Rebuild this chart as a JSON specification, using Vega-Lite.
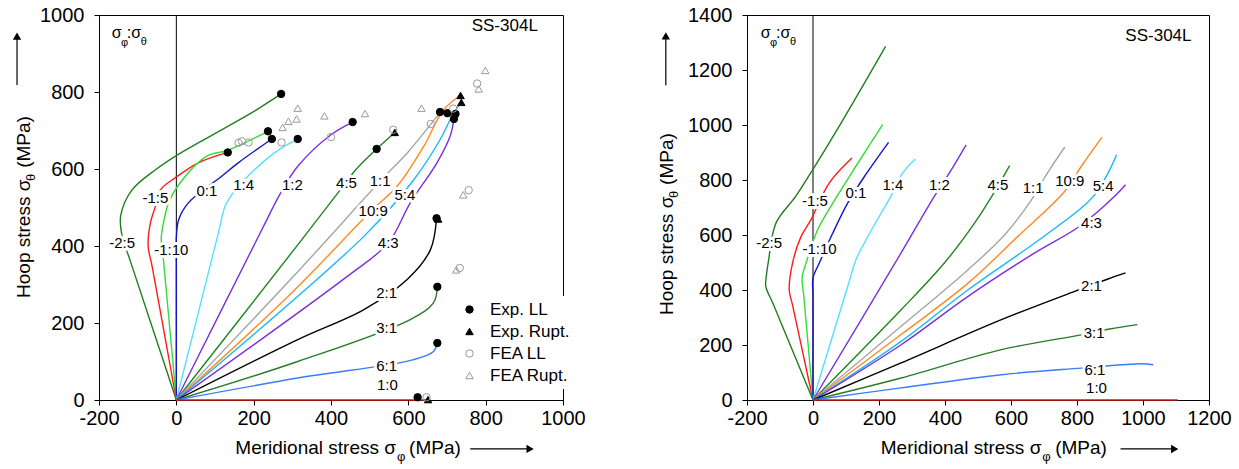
{
"$schema":"https://vega.github.io/schema/vega-lite/v6.json",
"padding":{"left":12,"top":4,"right":0,"bottom":0},
"config":{"font":"Liberation Sans","view":{"stroke":"#000","strokeWidth":1},
 "axis":{"grid":false,"domainColor":"#000","tickColor":"#000","labelColor":"#000","labelFontSize":20,"tickSize":5,"title":null,"labelOverlap":false,"labelFlush":false},
 "legend":{"labelFontSize":17,"labelColor":"#000","symbolSize":55,"symbolStrokeWidth":1,"rowPadding":4,"padding":5,"fillColor":"white","labelOffset":12}},
"datasets":{
"lc":[
{"r":"-2:5","i":0,"x":0,"y":0},{"r":"-2:5","i":1,"x":-120,"y":364},{"r":"-2:5","i":2,"x":-140,"y":425},{"r":"-2:5","i":3,"x":-144,"y":478},{"r":"-2:5","i":4,"x":-115,"y":545},{"r":"-2:5","i":5,"x":-54,"y":598},{"r":"-2:5","i":6,"x":-3,"y":633},{"r":"-2:5","i":7,"x":116,"y":701},{"r":"-2:5","i":8,"x":203,"y":751},{"r":"-2:5","i":9,"x":271,"y":795},
{"r":"-1:5","i":0,"x":0,"y":0},{"r":"-1:5","i":1,"x":-62,"y":344},{"r":"-1:5","i":2,"x":-73,"y":401},{"r":"-1:5","i":3,"x":-67,"y":460},{"r":"-1:5","i":4,"x":-54,"y":503},{"r":"-1:5","i":5,"x":-41,"y":546},{"r":"-1:5","i":6,"x":-3,"y":577},{"r":"-1:5","i":7,"x":57,"y":616},{"r":"-1:5","i":8,"x":133,"y":643},
{"r":"-1:10","i":0,"x":0,"y":0},{"r":"-1:10","i":1,"x":-33,"y":360},{"r":"-1:10","i":2,"x":-39,"y":421},{"r":"-1:10","i":3,"x":-35,"y":451},{"r":"-1:10","i":4,"x":-20,"y":512},{"r":"-1:10","i":5,"x":6,"y":559},{"r":"-1:10","i":6,"x":78,"y":633},{"r":"-1:10","i":7,"x":134,"y":649},{"r":"-1:10","i":8,"x":237,"y":698},
{"r":"0:1","i":0,"x":0,"y":0},{"r":"0:1","i":1,"x":0,"y":360},{"r":"0:1","i":2,"x":0,"y":421},{"r":"0:1","i":3,"x":6,"y":468},{"r":"0:1","i":4,"x":31,"y":512},{"r":"0:1","i":5,"x":117,"y":581},{"r":"0:1","i":6,"x":160,"y":616},{"r":"0:1","i":7,"x":247,"y":678},
{"r":"1:4","i":0,"x":0,"y":0},{"r":"1:4","i":1,"x":108,"y":431},{"r":"1:4","i":2,"x":126,"y":503},{"r":"1:4","i":3,"x":143,"y":533},{"r":"1:4","i":4,"x":194,"y":590},{"r":"1:4","i":5,"x":254,"y":642},{"r":"1:4","i":6,"x":314,"y":678},
{"r":"1:2","i":0,"x":0,"y":0},{"r":"1:2","i":1,"x":230,"y":460},{"r":"1:2","i":2,"x":267,"y":533},{"r":"1:2","i":3,"x":314,"y":607},{"r":"1:2","i":4,"x":400,"y":689},{"r":"1:2","i":5,"x":456,"y":722},
{"r":"4:5","i":0,"x":0,"y":0},{"r":"4:5","i":1,"x":314,"y":403},{"r":"4:5","i":2,"x":438,"y":564},{"r":"4:5","i":3,"x":464,"y":598},{"r":"4:5","i":4,"x":518,"y":652},{"r":"4:5","i":5,"x":565,"y":695},
{"r":"1:1","i":0,"x":0,"y":0},{"r":"1:1","i":1,"x":300,"y":318},{"r":"1:1","i":2,"x":527,"y":568},{"r":"1:1","i":3,"x":600,"y":645},{"r":"1:1","i":4,"x":682,"y":747},
{"r":"10:9","i":0,"x":0,"y":0},{"r":"10:9","i":1,"x":300,"y":280},{"r":"10:9","i":2,"x":507,"y":494},{"r":"10:9","i":3,"x":571,"y":555},{"r":"10:9","i":4,"x":640,"y":659},{"r":"10:9","i":5,"x":691,"y":754},{"r":"10:9","i":6,"x":735,"y":791},
{"r":"5:4","i":0,"x":0,"y":0},{"r":"5:4","i":1,"x":485,"y":425},{"r":"5:4","i":2,"x":614,"y":572},{"r":"5:4","i":3,"x":682,"y":676},{"r":"5:4","i":4,"x":717,"y":745},{"r":"5:4","i":5,"x":737,"y":773},
{"r":"4:3","i":0,"x":0,"y":0},{"r":"4:3","i":1,"x":442,"y":321},{"r":"4:3","i":2,"x":548,"y":408},{"r":"4:3","i":3,"x":605,"y":512},{"r":"4:3","i":4,"x":674,"y":616},{"r":"4:3","i":5,"x":708,"y":685},{"r":"4:3","i":6,"x":718,"y":730},
{"r":"2:1","i":0,"x":0,"y":0},{"r":"2:1","i":1,"x":314,"y":157},{"r":"2:1","i":2,"x":485,"y":235},{"r":"2:1","i":3,"x":597,"y":313},{"r":"2:1","i":4,"x":657,"y":390},{"r":"2:1","i":5,"x":673,"y":472},
{"r":"3:1","i":0,"x":0,"y":0},{"r":"3:1","i":1,"x":314,"y":100},{"r":"3:1","i":2,"x":605,"y":209},{"r":"3:1","i":3,"x":665,"y":252},{"r":"3:1","i":4,"x":675,"y":294},
{"r":"6:1","i":0,"x":0,"y":0},{"r":"6:1","i":1,"x":314,"y":57},{"r":"6:1","i":2,"x":614,"y":105},{"r":"6:1","i":3,"x":665,"y":126},{"r":"6:1","i":4,"x":675,"y":148},
{"r":"1:0","i":0,"x":0,"y":0},{"r":"1:0","i":1,"x":651,"y":0}
],
"rc":[
{"r":"-2:5","i":0,"x":0,"y":0},{"r":"-2:5","i":1,"x":-120,"y":347},{"r":"-2:5","i":2,"x":-143,"y":413},{"r":"-2:5","i":3,"x":-141,"y":455},{"r":"-2:5","i":4,"x":-135,"y":505},{"r":"-2:5","i":5,"x":-112,"y":644},{"r":"-2:5","i":6,"x":-52,"y":741},{"r":"-2:5","i":7,"x":-1,"y":837},{"r":"-2:5","i":8,"x":85,"y":1007},{"r":"-2:5","i":9,"x":220,"y":1286},
{"r":"-1:5","i":0,"x":0,"y":0},{"r":"-1:5","i":1,"x":-62,"y":345},{"r":"-1:5","i":2,"x":-72,"y":401},{"r":"-1:5","i":3,"x":-62,"y":498},{"r":"-1:5","i":4,"x":-36,"y":595},{"r":"-1:5","i":5,"x":-6,"y":656},{"r":"-1:5","i":6,"x":49,"y":789},{"r":"-1:5","i":7,"x":118,"y":880},
{"r":"-1:10","i":0,"x":0,"y":0},{"r":"-1:10","i":1,"x":-28,"y":380},{"r":"-1:10","i":2,"x":-33,"y":444},{"r":"-1:10","i":3,"x":-21,"y":498},{"r":"-1:10","i":4,"x":14,"y":619},{"r":"-1:10","i":5,"x":60,"y":716},{"r":"-1:10","i":6,"x":130,"y":850},{"r":"-1:10","i":7,"x":211,"y":1001},
{"r":"0:1","i":0,"x":0,"y":0},{"r":"0:1","i":1,"x":0,"y":380},{"r":"0:1","i":2,"x":0,"y":444},{"r":"0:1","i":3,"x":19,"y":498},{"r":"0:1","i":4,"x":60,"y":607},{"r":"0:1","i":5,"x":105,"y":716},{"r":"0:1","i":6,"x":156,"y":813},{"r":"0:1","i":7,"x":229,"y":937},
{"r":"1:4","i":0,"x":0,"y":0},{"r":"1:4","i":1,"x":110,"y":432},{"r":"1:4","i":2,"x":130,"y":510},{"r":"1:4","i":3,"x":161,"y":583},{"r":"1:4","i":4,"x":201,"y":668},{"r":"1:4","i":5,"x":238,"y":745},{"r":"1:4","i":6,"x":270,"y":822},{"r":"1:4","i":7,"x":310,"y":876},
{"r":"1:2","i":0,"x":0,"y":0},{"r":"1:2","i":1,"x":267,"y":535},{"r":"1:2","i":2,"x":368,"y":741},{"r":"1:2","i":3,"x":419,"y":837},{"r":"1:2","i":4,"x":464,"y":928},
{"r":"4:5","i":0,"x":0,"y":0},{"r":"4:5","i":1,"x":267,"y":328},{"r":"4:5","i":2,"x":398,"y":498},{"r":"4:5","i":3,"x":490,"y":644},{"r":"4:5","i":4,"x":545,"y":747},{"r":"4:5","i":5,"x":596,"y":852},
{"r":"1:1","i":0,"x":0,"y":0},{"r":"1:1","i":1,"x":267,"y":268},{"r":"1:1","i":2,"x":470,"y":474},{"r":"1:1","i":3,"x":581,"y":601},{"r":"1:1","i":4,"x":662,"y":728},{"r":"1:1","i":5,"x":707,"y":819},{"r":"1:1","i":6,"x":763,"y":920},
{"r":"10:9","i":0,"x":0,"y":0},{"r":"10:9","i":1,"x":267,"y":238},{"r":"10:9","i":2,"x":470,"y":425},{"r":"10:9","i":3,"x":621,"y":595},{"r":"10:9","i":4,"x":763,"y":759},{"r":"10:9","i":5,"x":813,"y":850},{"r":"10:9","i":6,"x":876,"y":956},
{"r":"5:4","i":0,"x":0,"y":0},{"r":"5:4","i":1,"x":267,"y":213},{"r":"5:4","i":2,"x":470,"y":401},{"r":"5:4","i":3,"x":672,"y":571},{"r":"5:4","i":4,"x":813,"y":698},{"r":"5:4","i":5,"x":854,"y":747},{"r":"5:4","i":6,"x":894,"y":825},{"r":"5:4","i":7,"x":920,"y":892},
{"r":"4:3","i":0,"x":0,"y":0},{"r":"4:3","i":1,"x":267,"y":201},{"r":"4:3","i":2,"x":470,"y":377},{"r":"4:3","i":3,"x":672,"y":535},{"r":"4:3","i":4,"x":808,"y":632},{"r":"4:3","i":5,"x":914,"y":741},{"r":"4:3","i":6,"x":947,"y":783},
{"r":"2:1","i":0,"x":0,"y":0},{"r":"2:1","i":1,"x":267,"y":135},{"r":"2:1","i":2,"x":571,"y":292},{"r":"2:1","i":3,"x":793,"y":395},{"r":"2:1","i":4,"x":894,"y":440},{"r":"2:1","i":5,"x":947,"y":462},
{"r":"3:1","i":0,"x":0,"y":0},{"r":"3:1","i":1,"x":267,"y":80},{"r":"3:1","i":2,"x":571,"y":183},{"r":"3:1","i":3,"x":813,"y":237},{"r":"3:1","i":4,"x":899,"y":258},{"r":"3:1","i":5,"x":983,"y":274},
{"r":"6:1","i":0,"x":0,"y":0},{"r":"6:1","i":1,"x":267,"y":44},{"r":"6:1","i":2,"x":571,"y":92},{"r":"6:1","i":3,"x":813,"y":116},{"r":"6:1","i":4,"x":995,"y":132},{"r":"6:1","i":5,"x":1031,"y":128},
{"r":"1:0","i":0,"x":0,"y":0},{"r":"1:0","i":1,"x":1105,"y":0}
],
"ll":[{"t":"-2:5","x":-140,"y":408},{"t":"-1:5","x":-54,"y":525},{"t":"-1:10","x":-13,"y":390},{"t":"0:1","x":79,"y":542},{"t":"1:4","x":174,"y":559},{"t":"1:2","x":300,"y":559},{"t":"4:5","x":440,"y":564},{"t":"1:1","x":527,"y":568},{"t":"10:9","x":509,"y":490},{"t":"5:4","x":591,"y":533},{"t":"4:3","x":548,"y":408},{"t":"2:1","x":544,"y":278},{"t":"3:1","x":544,"y":187},{"t":"6:1","x":544,"y":88},{"t":"1:0","x":546,"y":40}],
"rl":[{"t":"-2:5","x":-133,"y":571},{"t":"-1:5","x":6,"y":722},{"t":"-1:10","x":20,"y":549},{"t":"0:1","x":130,"y":753},{"t":"1:4","x":242,"y":783},{"t":"1:2","x":383,"y":783},{"t":"4:5","x":560,"y":783},{"t":"1:1","x":667,"y":771},{"t":"10:9","x":778,"y":795},{"t":"5:4","x":879,"y":777},{"t":"4:3","x":844,"y":644},{"t":"2:1","x":844,"y":413},{"t":"3:1","x":852,"y":244},{"t":"6:1","x":854,"y":110},{"t":"1:0","x":859,"y":44}],
"lp":[
{"type":"Exp. LL","x":271,"y":795},{"type":"Exp. LL","x":133,"y":643},{"type":"Exp. LL","x":237,"y":698},{"type":"Exp. LL","x":247,"y":678},{"type":"Exp. LL","x":314,"y":678},{"type":"Exp. LL","x":456,"y":722},{"type":"Exp. LL","x":518,"y":652},{"type":"Exp. LL","x":682,"y":748},{"type":"Exp. LL","x":701,"y":745},{"type":"Exp. LL","x":722,"y":743},{"type":"Exp. LL","x":718,"y":730},{"type":"Exp. LL","x":673,"y":472},{"type":"Exp. LL","x":675,"y":294},{"type":"Exp. LL","x":675,"y":148},{"type":"Exp. LL","x":624,"y":7},
{"type":"Exp. Rupt.","x":565,"y":695},{"type":"Exp. Rupt.","x":735,"y":791},{"type":"Exp. Rupt.","x":737,"y":773},{"type":"Exp. Rupt.","x":677,"y":470},{"type":"Exp. Rupt.","x":651,"y":1},
{"type":"FEA LL","x":161,"y":668},{"type":"FEA LL","x":170,"y":672},{"type":"FEA LL","x":187,"y":669},{"type":"FEA LL","x":272,"y":669},{"type":"FEA LL","x":400,"y":683},{"type":"FEA LL","x":561,"y":702},{"type":"FEA LL","x":658,"y":717},{"type":"FEA LL","x":716,"y":757},{"type":"FEA LL","x":778,"y":822},{"type":"FEA LL","x":756,"y":545},{"type":"FEA LL","x":733,"y":343},{"type":"FEA LL","x":647,"y":7},
{"type":"FEA Rupt.","x":275,"y":708},{"type":"FEA Rupt.","x":290,"y":724},{"type":"FEA Rupt.","x":311,"y":730},{"type":"FEA Rupt.","x":314,"y":758},{"type":"FEA Rupt.","x":383,"y":738},{"type":"FEA Rupt.","x":488,"y":744},{"type":"FEA Rupt.","x":634,"y":758},{"type":"FEA Rupt.","x":782,"y":808},{"type":"FEA Rupt.","x":799,"y":856},{"type":"FEA Rupt.","x":742,"y":533},{"type":"FEA Rupt.","x":724,"y":338}
],
"lt":[{"k":"xr","t":"Meridional stress σ","x":568,"y":-140},{"k":"xl","t":"(MPa)","x":602,"y":-140},{"k":"xs","t":"φ","x":571,"y":-158},{"k":"yr","t":"Hoop stress σ","x":-378,"y":265},{"k":"yr","t":"(MPa)","x":-378,"y":603},{"k":"ys","t":"θ","x":-365,"y":569},{"k":"ab","t":"σ","x":-167,"y":940},{"k":"ab","t":":σ","x":-128,"y":940},{"k":"as","t":"φ","x":-143,"y":919},{"k":"as","t":"θ","x":-92,"y":922},{"k":"id","t":"SS-304L","x":935,"y":958}],
"rt":[{"k":"xr","t":"Meridional stress σ","x":692,"y":-196},{"k":"xl","t":"(MPa)","x":734,"y":-196},{"k":"xs","t":"φ","x":695,"y":-222},{"k":"yr","t":"Hoop stress σ","x":-425,"y":309},{"k":"yr","t":"(MPa)","x":-425,"y":782},{"k":"ys","t":"θ","x":-410,"y":735},{"k":"ab","t":"σ","x":-158,"y":1316},{"k":"ab","t":":σ","x":-112,"y":1316},{"k":"as","t":"φ","x":-130,"y":1287},{"k":"as","t":"θ","x":-70,"y":1291},{"k":"id","t":"SS-304L","x":1147,"y":1305}],
"la":[{"x":760,"y":-127,"x2":910,"y2":-127},{"x":-412,"y":818,"x2":-412,"y2":940}],
"lh":[{"s":"r","x":915,"y":-127},{"s":"u","x":-412,"y":945}],
"ra":[{"x":932,"y":-178,"x2":1090,"y2":-178},{"x":-446,"y":1145,"x2":-446,"y2":1316}],
"rh":[{"s":"r","x":1096,"y":-178},{"s":"u","x":-446,"y":1324}],
"lz":[{"x":0,"y":0,"y2":1000}],
"rz":[{"x":0,"y":0,"y2":1400}]
},
"spacing":71,
"resolve":{"scale":{"shape":"independent","fill":"independent","stroke":"independent"}},
"hconcat":[
{"width":464,"height":385,
 "layer":[
  {"data":{"name":"lz"},"mark":{"type":"rule","color":"#000","strokeWidth":1},
   "encoding":{"x":{"field":"x","type":"quantitative","scale":{"domain":[-200,1000],"nice":false,"zero":false},"axis":{"values":[-200,-100,0,100,200,300,400,500,600,700,800,900,1000],"labelExpr":"datum.value % 200 == 0 ? '' + datum.value : ''","labelPadding":3}},
    "y":{"field":"y","type":"quantitative","scale":{"domain":[0,1000],"nice":false},"axis":{"values":[0,100,200,300,400,500,600,700,800,900,1000],"labelExpr":"datum.value % 200 == 0 ? '' + datum.value : ''","labelPadding":10}},
    "y2":{"field":"y2"}}},
  {"data":{"name":"lc"},"mark":{"type":"line","strokeWidth":1.4,"interpolate":"catmull-rom"},
   "encoding":{"x":{"field":"x","type":"quantitative"},"y":{"field":"y","type":"quantitative"},
    "color":{"field":"r","type":"nominal","legend":null,"scale":{"domain":["-2:5","-1:5","-1:10","0:1","1:4","1:2","4:5","1:1","10:9","5:4","4:3","2:1","3:1","6:1","1:0"],"range":["#1f7f1f","#ff1a1a","#33dd33","#1414c8","#55e0ff","#7a30dd","#1f861f","#a6a6a6","#ff8a1e","#19b9f5","#7a2ee0","#000000","#2a7a2a","#3a7bff","#d01818"]}},
    "order":{"field":"i","type":"quantitative"}}},
  {"data":{"name":"ll"},"mark":{"type":"text","fontSize":15,"fill":"white","stroke":"white","strokeWidth":6,"strokeJoin":"round"},
   "encoding":{"x":{"field":"x","type":"quantitative"},"y":{"field":"y","type":"quantitative"},"text":{"field":"t"}}},
  {"data":{"name":"ll"},"mark":{"type":"text","fontSize":15,"fill":"#000"},
   "encoding":{"x":{"field":"x","type":"quantitative"},"y":{"field":"y","type":"quantitative"},"text":{"field":"t"}}},
  {"data":{"name":"lp"},"mark":{"type":"point","filled":true,"size":55,"strokeWidth":1,"opacity":1},
   "encoding":{"x":{"field":"x","type":"quantitative"},"y":{"field":"y","type":"quantitative"},
    "shape":{"field":"type","type":"nominal","scale":{"domain":["Exp. LL","Exp. Rupt.","FEA LL","FEA Rupt."],"range":["circle","triangle-up","circle","triangle-up"]},"legend":{"orient":"none","legendX":357,"legendY":281,"title":null}},
    "fill":{"field":"type","type":"nominal","scale":{"domain":["Exp. LL","Exp. Rupt.","FEA LL","FEA Rupt."],"range":["#000000","#000000","transparent","transparent"]},"legend":{"orient":"none","legendX":357,"legendY":281,"title":null}},
    "stroke":{"field":"type","type":"nominal","scale":{"domain":["Exp. LL","Exp. Rupt.","FEA LL","FEA Rupt."],"range":["#000000","#000000","#9a9a9a","#9a9a9a"]},"legend":{"orient":"none","legendX":357,"legendY":281,"title":null}}}},
  {"data":{"name":"lt"},"transform":[{"filter":"datum.k=='xr'"}],"mark":{"type":"text","fontSize":19,"align":"right","baseline":"alphabetic"},
   "encoding":{"x":{"field":"x","type":"quantitative"},"y":{"field":"y","type":"quantitative"},"text":{"field":"t"}}},
  {"data":{"name":"lt"},"transform":[{"filter":"datum.k=='xl'"}],"mark":{"type":"text","fontSize":19,"align":"left","baseline":"alphabetic"},
   "encoding":{"x":{"field":"x","type":"quantitative"},"y":{"field":"y","type":"quantitative"},"text":{"field":"t"}}},
  {"data":{"name":"lt"},"transform":[{"filter":"datum.k=='xs'"}],"mark":{"type":"text","fontSize":13,"align":"left","baseline":"alphabetic"},
   "encoding":{"x":{"field":"x","type":"quantitative"},"y":{"field":"y","type":"quantitative"},"text":{"field":"t"}}},
  {"data":{"name":"lt"},"transform":[{"filter":"datum.k=='yr'"}],"mark":{"type":"text","fontSize":19,"align":"left","baseline":"alphabetic","angle":270},
   "encoding":{"x":{"field":"x","type":"quantitative"},"y":{"field":"y","type":"quantitative"},"text":{"field":"t"}}},
  {"data":{"name":"lt"},"transform":[{"filter":"datum.k=='ys'"}],"mark":{"type":"text","fontSize":13,"align":"left","baseline":"alphabetic","angle":270},
   "encoding":{"x":{"field":"x","type":"quantitative"},"y":{"field":"y","type":"quantitative"},"text":{"field":"t"}}},
  {"data":{"name":"lt"},"transform":[{"filter":"datum.k=='ab'"}],"mark":{"type":"text","fontSize":16,"align":"left","baseline":"alphabetic"},
   "encoding":{"x":{"field":"x","type":"quantitative"},"y":{"field":"y","type":"quantitative"},"text":{"field":"t"}}},
  {"data":{"name":"lt"},"transform":[{"filter":"datum.k=='as'"}],"mark":{"type":"text","fontSize":11,"align":"left","baseline":"alphabetic"},
   "encoding":{"x":{"field":"x","type":"quantitative"},"y":{"field":"y","type":"quantitative"},"text":{"field":"t"}}},
  {"data":{"name":"lt"},"transform":[{"filter":"datum.k=='id'"}],"mark":{"type":"text","fontSize":17,"align":"right","baseline":"alphabetic"},
   "encoding":{"x":{"field":"x","type":"quantitative"},"y":{"field":"y","type":"quantitative"},"text":{"field":"t"}}},
  {"data":{"name":"la"},"mark":{"type":"rule","color":"#000","strokeWidth":1.2},
   "encoding":{"x":{"field":"x","type":"quantitative"},"y":{"field":"y","type":"quantitative"},"x2":{"field":"x2"},"y2":{"field":"y2"}}},
  {"data":{"name":"lh"},"transform":[{"filter":"datum.s=='r'"}],"mark":{"type":"point","shape":"triangle-right","filled":true,"color":"#000","size":70,"opacity":1},
   "encoding":{"x":{"field":"x","type":"quantitative"},"y":{"field":"y","type":"quantitative"}}},
  {"data":{"name":"lh"},"transform":[{"filter":"datum.s=='u'"}],"mark":{"type":"point","shape":"triangle-up","filled":true,"color":"#000","size":70,"opacity":1},
   "encoding":{"x":{"field":"x","type":"quantitative"},"y":{"field":"y","type":"quantitative"}}}
 ]},
{"width":462,"height":385,
 "layer":[
  {"data":{"name":"rz"},"mark":{"type":"rule","color":"#000","strokeWidth":1},
   "encoding":{"x":{"field":"x","type":"quantitative","scale":{"domain":[-200,1200],"nice":false,"zero":false},"axis":{"values":[-200,-100,0,100,200,300,400,500,600,700,800,900,1000,1100,1200],"labelExpr":"datum.value % 200 == 0 ? '' + datum.value : ''","labelPadding":3}},
    "y":{"field":"y","type":"quantitative","scale":{"domain":[0,1400],"nice":false},"axis":{"values":[0,100,200,300,400,500,600,700,800,900,1000,1100,1200,1300,1400],"labelExpr":"datum.value % 200 == 0 ? '' + datum.value : ''","labelPadding":10}},
    "y2":{"field":"y2"}}},
  {"data":{"name":"rc"},"mark":{"type":"line","strokeWidth":1.4,"interpolate":"catmull-rom"},
   "encoding":{"x":{"field":"x","type":"quantitative"},"y":{"field":"y","type":"quantitative"},
    "color":{"field":"r","type":"nominal","legend":null},
    "order":{"field":"i","type":"quantitative"}}},
  {"data":{"name":"rl"},"mark":{"type":"text","fontSize":15,"fill":"white","stroke":"white","strokeWidth":6,"strokeJoin":"round"},
   "encoding":{"x":{"field":"x","type":"quantitative"},"y":{"field":"y","type":"quantitative"},"text":{"field":"t"}}},
  {"data":{"name":"rl"},"mark":{"type":"text","fontSize":15,"fill":"#000"},
   "encoding":{"x":{"field":"x","type":"quantitative"},"y":{"field":"y","type":"quantitative"},"text":{"field":"t"}}},
  {"data":{"name":"rt"},"transform":[{"filter":"datum.k=='xr'"}],"mark":{"type":"text","fontSize":19,"align":"right","baseline":"alphabetic"},
   "encoding":{"x":{"field":"x","type":"quantitative"},"y":{"field":"y","type":"quantitative"},"text":{"field":"t"}}},
  {"data":{"name":"rt"},"transform":[{"filter":"datum.k=='xl'"}],"mark":{"type":"text","fontSize":19,"align":"left","baseline":"alphabetic"},
   "encoding":{"x":{"field":"x","type":"quantitative"},"y":{"field":"y","type":"quantitative"},"text":{"field":"t"}}},
  {"data":{"name":"rt"},"transform":[{"filter":"datum.k=='xs'"}],"mark":{"type":"text","fontSize":13,"align":"left","baseline":"alphabetic"},
   "encoding":{"x":{"field":"x","type":"quantitative"},"y":{"field":"y","type":"quantitative"},"text":{"field":"t"}}},
  {"data":{"name":"rt"},"transform":[{"filter":"datum.k=='yr'"}],"mark":{"type":"text","fontSize":19,"align":"left","baseline":"alphabetic","angle":270},
   "encoding":{"x":{"field":"x","type":"quantitative"},"y":{"field":"y","type":"quantitative"},"text":{"field":"t"}}},
  {"data":{"name":"rt"},"transform":[{"filter":"datum.k=='ys'"}],"mark":{"type":"text","fontSize":13,"align":"left","baseline":"alphabetic","angle":270},
   "encoding":{"x":{"field":"x","type":"quantitative"},"y":{"field":"y","type":"quantitative"},"text":{"field":"t"}}},
  {"data":{"name":"rt"},"transform":[{"filter":"datum.k=='ab'"}],"mark":{"type":"text","fontSize":16,"align":"left","baseline":"alphabetic"},
   "encoding":{"x":{"field":"x","type":"quantitative"},"y":{"field":"y","type":"quantitative"},"text":{"field":"t"}}},
  {"data":{"name":"rt"},"transform":[{"filter":"datum.k=='as'"}],"mark":{"type":"text","fontSize":11,"align":"left","baseline":"alphabetic"},
   "encoding":{"x":{"field":"x","type":"quantitative"},"y":{"field":"y","type":"quantitative"},"text":{"field":"t"}}},
  {"data":{"name":"rt"},"transform":[{"filter":"datum.k=='id'"}],"mark":{"type":"text","fontSize":17,"align":"right","baseline":"alphabetic"},
   "encoding":{"x":{"field":"x","type":"quantitative"},"y":{"field":"y","type":"quantitative"},"text":{"field":"t"}}},
  {"data":{"name":"ra"},"mark":{"type":"rule","color":"#000","strokeWidth":1.2},
   "encoding":{"x":{"field":"x","type":"quantitative"},"y":{"field":"y","type":"quantitative"},"x2":{"field":"x2"},"y2":{"field":"y2"}}},
  {"data":{"name":"rh"},"transform":[{"filter":"datum.s=='r'"}],"mark":{"type":"point","shape":"triangle-right","filled":true,"color":"#000","size":70,"opacity":1},
   "encoding":{"x":{"field":"x","type":"quantitative"},"y":{"field":"y","type":"quantitative"}}},
  {"data":{"name":"rh"},"transform":[{"filter":"datum.s=='u'"}],"mark":{"type":"point","shape":"triangle-up","filled":true,"color":"#000","size":70,"opacity":1},
   "encoding":{"x":{"field":"x","type":"quantitative"},"y":{"field":"y","type":"quantitative"}}}
 ]}
]
}
